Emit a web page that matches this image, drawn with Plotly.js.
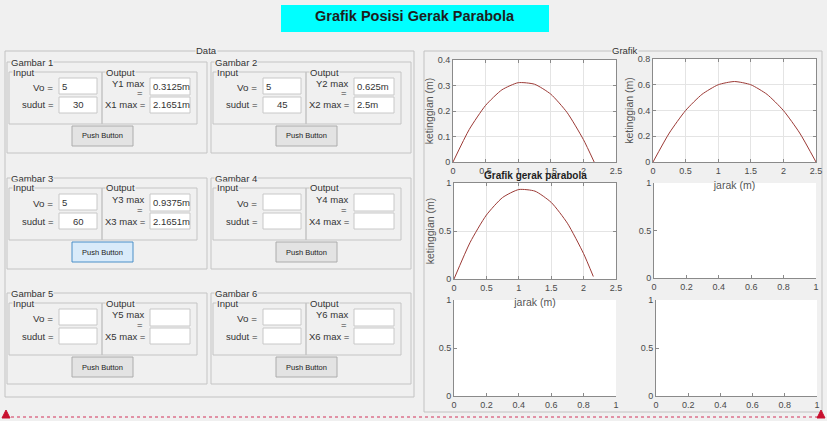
<!DOCTYPE html>
<html><head><meta charset="utf-8">
<script src="https://cdn.plot.ly/plotly-3.0.1.min.js"></script>
<style>html,body{margin:0;padding:0;background:#f0f0f0;} #chart{width:827px;height:421px;}</style>
</head><body><div id="chart"></div>
<script>
// ---- GUI data ----
const gambarNames = ['Gambar 1','Gambar 2','Gambar 3','Gambar 4','Gambar 5','Gambar 6'];
const voValues = ['5','5','5','','',''];
const sudutValues = ['30','45','60','','',''];
const yMaxValues = ['0.3125m','0.625m','0.9375m','','',''];
const xMaxValues = ['2.1651m','2.5m','2.1651m','','',''];
const buttonLabel = 'Push Button';
const mainTitle = 'Grafik Posisi Gerak Parabola';
const plot3Title = 'Grafik gerak parabola';
const xTitle = 'jarak (m)';
const yTitle = 'ketinggian (m)';

// ---- curve data ----
const jarak30 = [0,0.25,0.5,0.75,1.0,1.25,1.5,1.75,2.0,2.165];
const tinggi30 = [0,0.128,0.222,0.283,0.311,0.305,0.266,0.194,0.088,0];
const jarak45 = [0,0.25,0.5,0.75,1.0,1.25,1.5,1.75,2.0,2.25,2.5];
const tinggi45 = [0,0.225,0.4,0.525,0.6,0.625,0.6,0.525,0.4,0.225,0];
const jarak60 = [0,0.25,0.5,0.75,1.0,1.25,1.5,1.75,2.0,2.15];
const tinggi60 = [0,0.383,0.666,0.849,0.932,0.915,0.798,0.581,0.264,0.026];

// ---- tick values ----
const ticksJarak = [0,0.5,1,1.5,2,2.5];
const ticksY1 = [0,0.1,0.2,0.3,0.4];
const ticksY2 = [0,0.2,0.4,0.6,0.8];
const ticksY3 = [0,0.5,1];
const ticksUnit = [0,0.2,0.4,0.6,0.8,1];

const W = 827, H = 421;
const FONT = 'Liberation Sans, Arial, sans-serif';
const px = x => x / W;
const py = y => 1 - y / H;

const shapes = [];
const annotations = [];
function rect(x0, y0, x1, y1, line, fill, width) {
  shapes.push({type:'rect', xref:'paper', yref:'paper', layer:'below',
    x0:px(x0), x1:px(x1), y0:py(y1), y1:py(y0),
    line:{color:line, width:width||1}, fillcolor:fill||'rgba(0,0,0,0)'});
}
function label(x, y, text, anchor, size, opts) {
  const a = Object.assign({xref:'paper', yref:'paper', x:px(x), y:py(y), text:text,
    showarrow:false, xanchor:anchor, yanchor:'middle', borderpad:0,
    font:{family:FONT, size:size||9.5, color:'#333333'}}, opts||{});
  annotations.push(a);
}

// Title box
rect(281, 5, 549, 32, 'rgba(0,0,0,0)', '#00ffff', 0);
label(415, 16, '<b>' + mainTitle + '</b>', 'center', 14.5, {font:{family:FONT, size:14.5, color:'#1e1e1e'}});

// Data panel
rect(5, 51, 414, 397, '#c2c2c2');
label(206, 51, 'Data', 'center', 9.5, {bgcolor:'#f0f0f0'});
// Grafik panel
rect(424, 51, 822, 412, '#c2c2c2');
label(611, 51, 'Grafik', 'left', 9.5, {bgcolor:'#f0f0f0'});

const colX = [0, 204];
const rowY = [0, 116, 231];
gambarNames.forEach((name, i) => {
  const dx = colX[i % 2], dy = rowY[Math.floor(i / 2)];
  const n = i + 1;
  rect(7+dx, 62+dy, 207+dx, 153+dy, '#c4c4c4');
  rect(9+dx, 72+dy, 102+dx, 124+dy, '#c4c4c4');
  rect(102+dx, 72+dy, 197+dx, 124+dy, '#c4c4c4');
  rect(59+dx, 78+dy, 97+dx, 94+dy, '#c8c8c8', '#ffffff');
  rect(59+dx, 97+dy, 97+dx, 113+dy, '#c8c8c8', '#ffffff');
  rect(150+dx, 78+dy, 190+dx, 95+dy, '#c8c8c8', '#ffffff');
  rect(150+dx, 97+dy, 190+dx, 113+dy, '#c8c8c8', '#ffffff');
  if (i === 2) rect(72+dx, 126+dy, 133+dx, 146+dy, '#4a8fc8', '#d9ebfa');
  else rect(72+dx, 126+dy, 133+dx, 146+dy, '#acacac', '#e3e3e3');

  label(10+dx, 62+dy, name, 'left', 9.5, {bgcolor:'#f0f0f0'});
  label(12+dx, 72+dy, 'Input', 'left', 9.5, {bgcolor:'#f0f0f0'});
  label(105+dx, 72+dy, 'Output', 'left', 9.5, {bgcolor:'#f0f0f0'});
  label(54+dx, 87+dy, 'Vo =', 'right', 9.8);
  label(55+dx, 105+dy, 'sudut =', 'right', 9.5);
  label(128+dx, 83+dy, 'Y' + n + ' max', 'center', 9.5);
  label(140+dx, 93+dy, '=', 'center', 9.5);
  label(147+dx, 105+dy, 'X' + n + ' max =', 'right', 9.5);
  if (voValues[i]) label(61+dx, 86+dy, voValues[i], 'left', 9.5);
  if (sudutValues[i]) label(78+dx, 105+dy, sudutValues[i], 'center', 9.5);
  if (yMaxValues[i]) label(152+dx, 86+dy, yMaxValues[i], 'left', 9.5);
  if (xMaxValues[i]) label(152+dx, 105+dy, xMaxValues[i], 'left', 9.5);
  label(102.5+dx, 136+dy, buttonLabel, 'center', 7.5, {font:{family:FONT, size:7.5, color:'#222'}});
});

// Bottom dashed red line with markers
shapes.push({type:'line', xref:'paper', yref:'paper', x0:px(5), x1:px(822), y0:py(417), y1:py(417),
  line:{color:'#d2335a', width:1, dash:'dot'}});
function tri(cx) {
  shapes.push({type:'path', xref:'paper', yref:'paper',
    path:`M ${px(cx-4)} ${py(418)} L ${px(cx+4)} ${py(418)} L ${px(cx)} ${py(410)} Z`,
    fillcolor:'#c8102e', line:{color:'#c8102e', width:1}});
}
tri(6); tri(821);

// Plot 3 title
label(535, 175, '<b>' + plot3Title + '</b>', 'center', 10, {font:{family:FONT, size:10, color:'#1e1e1e'}});

// ---- axes ----
const tickfont = {family:FONT, size:9, color:'#4a4a4a'};
const titlefont = {family:FONT, size:10.5, color:'#555555'};
function axis(d0, d1, range, tickvals, anchor, boxed, isY, title) {
  const a = {
    domain: isY ? [py(d1), py(d0)] : [px(d0), px(d1)],
    range: range, tickvals: tickvals, anchor: anchor,
    showgrid: boxed, gridcolor:'#e4e4e4', gridwidth:1,
    showline:true, linecolor:'#8a8a8a', linewidth:1,
    mirror: boxed ? 'ticks' : false,
    ticks:'inside', ticklen:3, tickcolor:'#8a8a8a',
    tickfont: tickfont, zeroline:false, fixedrange:true
  };
  if (title) a.title = {text:title, font:titlefont, standoff: isY ? 2 : 6};
  return a;
}

const lineStyle = {color:'#9c3a36', width:1, shape:'spline', smoothing:0.6};
const data = [
  {type:'scatter', mode:'lines', x:jarak30, y:tinggi30, xaxis:'x', yaxis:'y', line:lineStyle, hoverinfo:'skip'},
  {type:'scatter', mode:'lines', x:jarak45, y:tinggi45, xaxis:'x2', yaxis:'y2', line:lineStyle, hoverinfo:'skip'},
  {type:'scatter', mode:'lines', x:jarak60, y:tinggi60, xaxis:'x3', yaxis:'y3', line:lineStyle, hoverinfo:'skip'},
  {type:'scatter', mode:'lines', x:[], y:[], xaxis:'x4', yaxis:'y4'},
  {type:'scatter', mode:'lines', x:[], y:[], xaxis:'x5', yaxis:'y5'},
  {type:'scatter', mode:'lines', x:[], y:[], xaxis:'x6', yaxis:'y6'}
];

const layout = {
  width: W, height: H,
  margin:{l:0, r:0, t:0, b:0},
  paper_bgcolor:'#f0f0f0', plot_bgcolor:'#ffffff',
  showlegend:false,
  xaxis:  axis(453, 616, [0,2.5], ticksJarak, 'y', true, false),
  yaxis:  axis(60, 162, [0,0.4], ticksY1, 'x', true, true, yTitle),
  xaxis2: axis(653, 816, [0,2.5], ticksJarak, 'y2', true, false, xTitle),
  yaxis2: axis(59, 162, [0,0.8], ticksY2, 'x2', true, true, yTitle),
  xaxis3: axis(454, 616, [0,2.5], ticksJarak, 'y3', true, false, xTitle),
  yaxis3: axis(183, 279, [0,1], ticksY3, 'x3', true, true, yTitle),
  xaxis4: axis(654, 816, [0,1], ticksUnit, 'y4', false, false),
  yaxis4: axis(183, 278, [0,1], ticksY3, 'x4', false, true),
  xaxis5: axis(454, 616, [0,1], ticksUnit, 'y5', false, false),
  yaxis5: axis(300, 396, [0,1], ticksY3, 'x5', false, true),
  xaxis6: axis(656, 817, [0,1], ticksUnit, 'y6', false, false),
  yaxis6: axis(300, 396, [0,1], ticksY3, 'x6', false, true),
  shapes: shapes,
  annotations: annotations
};

Plotly.newPlot('chart', data, layout, {displayModeBar:false, staticPlot:true});
</script>
</body></html>
